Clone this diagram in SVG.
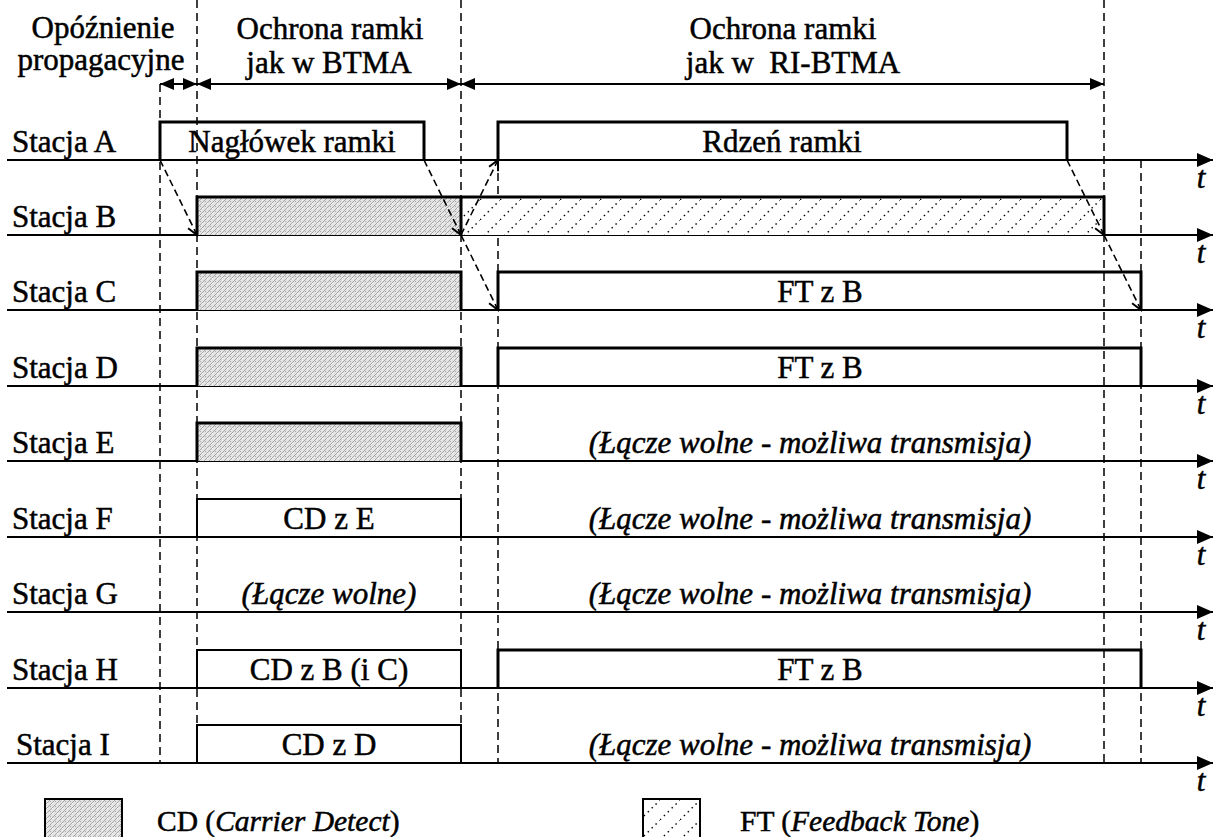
<svg xmlns="http://www.w3.org/2000/svg" width="1215" height="837" viewBox="0 0 1215 837">
<style>
text{font-family:"Liberation Serif","DejaVu Serif","Noto Serif",serif;font-size:31px;fill:#000;stroke:#000;stroke-width:0.5}
.it{font-style:italic}
.c{text-anchor:middle}
.lg{font-size:29.5px}
.axis{stroke:#000;stroke-width:2;fill:none}
.vd{stroke:#000;stroke-width:1.5;stroke-dasharray:8 5;fill:none}
.sig{stroke:#000;stroke-width:1.6;stroke-dasharray:7 4;fill:none}
.thick{stroke:#000;stroke-width:3;fill:none}
.thin{stroke:#000;stroke-width:2;fill:none}
.dim{stroke:#000;stroke-width:2;fill:none}
</style>
<defs>
<pattern id="cd" patternUnits="userSpaceOnUse" width="5" height="5">
<rect width="5" height="5" fill="#e4e4e4"/>
<path d="M-1,1 L1,-1 M0,5 L5,0 M4,6 L6,4" stroke="#8a8a8a" stroke-width="0.7"/>
<rect x="2" y="3" width="1" height="1" fill="#fff"/>
<rect x="0" y="1" width="1" height="1" fill="#aaa"/>
</pattern>
<pattern id="ft" patternUnits="userSpaceOnUse" width="20" height="20">
<rect width="20" height="20" fill="#fff"/>
<path d="M0,20 L20,0" stroke="#000" stroke-width="1.4" stroke-dasharray="1.5 4"/>
</pattern>
<marker id="ah" viewBox="0 0 16 14" refX="16" refY="7" markerWidth="16" markerHeight="14" markerUnits="userSpaceOnUse" orient="auto">
<path d="M0,0 L16,7 L0,14 z" fill="#000"/>
</marker>
<marker id="dh" viewBox="0 0 14 12" refX="14" refY="6" markerWidth="14" markerHeight="12" markerUnits="userSpaceOnUse" orient="auto-start-reverse">
<path d="M0,0 L14,6 L0,12 z" fill="#000"/>
</marker>
<marker id="oh" viewBox="-12 -7 14 14" refX="0" refY="0" markerWidth="14" markerHeight="14" markerUnits="userSpaceOnUse" orient="auto">
<path d="M-10,-5 L0,0 L-10,5" fill="none" stroke="#000" stroke-width="2"/>
</marker>
</defs>

<g id="header">
<text class="c" x="103" y="38">Opóźnienie</text>
<text class="c" x="101" y="70">propagacyjne</text>
<text class="c" x="330" y="39">Ochrona ramki</text>
<text class="c" x="329" y="73">jak w BTMA</text>
<text class="c" x="783" y="39">Ochrona ramki</text>
<text class="c" x="793" y="73" xml:space="preserve">jak w  RI-BTMA</text>
</g>

<g id="dimensions">
<path class="dim" d="M160,84 H197" marker-start="url(#dh)" marker-end="url(#dh)"/>
<path class="dim" d="M197,84 H461" marker-start="url(#dh)" marker-end="url(#dh)"/>
<path class="dim" d="M461,84 H1104" marker-start="url(#dh)" marker-end="url(#dh)"/>
</g>

<g id="guides">
<path class="vd" d="M160,84 V763"/>
<path class="vd" d="M197,0 V763"/>
<path class="vd" d="M461,0 V763"/>
<path class="vd" d="M498,160 V763"/>
<path class="vd" d="M1104,0 V763"/>
<path class="vd" d="M1141,160 V763"/>
</g>

<g id="axes">
<path class="axis" d="M7,160 H1213" marker-end="url(#ah)"/>
<path class="axis" d="M7,235 H1213" marker-end="url(#ah)"/>
<path class="axis" d="M7,310 H1213" marker-end="url(#ah)"/>
<path class="axis" d="M7,386 H1213" marker-end="url(#ah)"/>
<path class="axis" d="M7,461 H1213" marker-end="url(#ah)"/>
<path class="axis" d="M7,537 H1213" marker-end="url(#ah)"/>
<path class="axis" d="M7,612 H1213" marker-end="url(#ah)"/>
<path class="axis" d="M7,688 H1213" marker-end="url(#ah)"/>
<path class="axis" d="M7,763 H1213" marker-end="url(#ah)"/>
<text class="it c" x="1201" y="188">t</text>
<text class="it c" x="1201" y="263">t</text>
<text class="it c" x="1201" y="338">t</text>
<text class="it c" x="1201" y="414">t</text>
<text class="it c" x="1201" y="489">t</text>
<text class="it c" x="1201" y="565">t</text>
<text class="it c" x="1201" y="640">t</text>
<text class="it c" x="1201" y="716">t</text>
<text class="it c" x="1201" y="791">t</text>
</g>

<g id="station-A">
<text x="12" y="152">Stacja A</text>
<path class="thick" d="M160,160 V122 H424 V160"/>
<text class="c" x="292" y="152">Nagłówek ramki</text>
<path class="thick" d="M498,160 V122 H1067 V160"/>
<text class="c" x="782" y="152">Rdzeń ramki</text>
</g>

<g id="station-B">
<text x="12" y="227">Stacja B</text>
<rect x="197" y="197" width="264" height="38" fill="url(#cd)"/>
<rect x="461" y="197" width="643" height="38" fill="url(#ft)"/>
<path class="thick" d="M197,235 V197 H1104 V235"/>
<path class="thick" d="M461,197 V235"/>
</g>

<g id="station-C">
<text x="12" y="302">Stacja C</text>
<rect x="197" y="272" width="264" height="38" fill="url(#cd)"/>
<path class="thick" d="M197,310 V272 H461 V310"/>
<path class="thick" d="M498,310 V272 H1141 V310"/>
<text class="c" x="820" y="302">FT z B</text>
</g>

<g id="station-D">
<text x="12" y="378">Stacja D</text>
<rect x="197" y="348" width="264" height="38" fill="url(#cd)"/>
<path class="thick" d="M197,386 V348 H461 V386"/>
<path class="thick" d="M498,386 V348 H1141 V386"/>
<text class="c" x="820" y="378">FT z B</text>
</g>

<g id="station-E">
<text x="12" y="453">Stacja E</text>
<rect x="197" y="423" width="264" height="38" fill="url(#cd)"/>
<path class="thick" d="M197,461 V423 H461 V461"/>
<text class="it c" x="810" y="453">(Łącze wolne - możliwa transmisja)</text>
</g>

<g id="station-F">
<text x="12" y="529">Stacja F</text>
<path class="thin" d="M197,537 V499 H461 V537"/>
<text class="c" x="329" y="529">CD z E</text>
<text class="it c" x="810" y="529">(Łącze wolne - możliwa transmisja)</text>
</g>

<g id="station-G">
<text x="12" y="604">Stacja G</text>
<text class="it c" x="329" y="604">(Łącze wolne)</text>
<text class="it c" x="810" y="604">(Łącze wolne - możliwa transmisja)</text>
</g>

<g id="station-H">
<text x="12" y="680">Stacja H</text>
<path class="thin" d="M197,688 V650 H461 V688"/>
<text class="c" x="329" y="680">CD z B (i C)</text>
<path class="thick" d="M498,688 V650 H1141 V688"/>
<text class="c" x="820" y="680">FT z B</text>
</g>

<g id="station-I">
<text x="16" y="755">Stacja I</text>
<path class="thin" d="M197,763 V725 H461 V763"/>
<text class="c" x="329" y="755">CD z D</text>
<text class="it c" x="810" y="755">(Łącze wolne - możliwa transmisja)</text>
</g>

<g id="connectors">
<path class="sig" d="M160,160 L197,235" marker-end="url(#oh)"/>
<path class="sig" d="M424,160 L461,235" marker-end="url(#oh)"/>
<path class="sig" d="M461,235 L498,160" marker-end="url(#oh)"/>
<path class="sig" d="M461,235 L498,310" marker-end="url(#oh)"/>
<path class="sig" d="M1067,160 L1104,235" marker-end="url(#oh)"/>
<path class="sig" d="M1104,235 L1141,310" marker-end="url(#oh)"/>
</g>

<g id="legend">
<rect x="45" y="799" width="77" height="50" fill="url(#cd)" stroke="#000" stroke-width="2"/>
<text class="lg" x="157" y="831">CD (<tspan class="it">Carrier Detect</tspan>)</text>
<rect x="643" y="799" width="57" height="50" fill="url(#ft)" stroke="#000" stroke-width="2"/>
<text class="lg" x="740" y="831">FT (<tspan class="it">Feedback Tone</tspan>)</text>
</g>
</svg>
